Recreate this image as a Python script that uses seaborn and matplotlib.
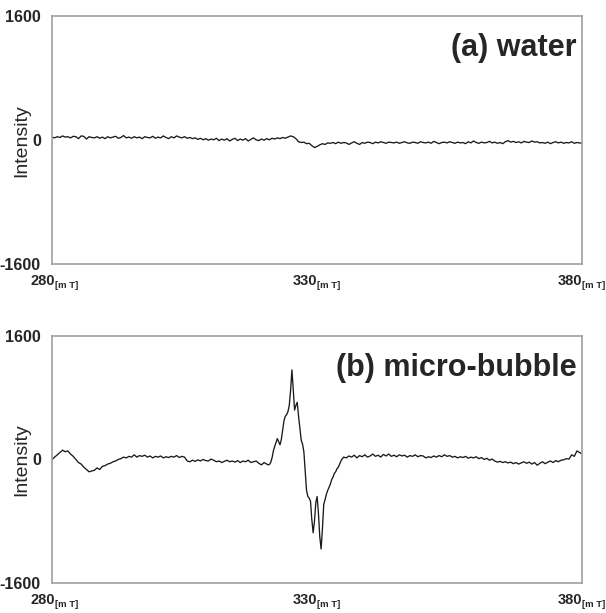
import numpy as np
import pandas as pd
import matplotlib
matplotlib.use("Agg")
import matplotlib.pyplot as plt
import seaborn as sns

# ESR spectra (field in mT, intensity in a.u.)
water_int = [40, 30, 45, 35, 55, 40, 45, 30, 50, 45, 20, 55, 50, 15, 45, 35, 30, 45, 25, 40,
             20, 45, 30, 40, 50, 25, 35, 60, 30, 40, 25, 45, 30, 40, 20, 45, 35, 30, 50, 25,
             40, 30, 55, 35, 20, 45, 30, 55, 40, 30, 45, 25, 35, 20, 30, 10, 25, 5, 20, 0,
             15, 5, 25, -5, 15, 0, 20, -10, 10, 25, -5, 15, 0, 20, -10, 10, 30, 5, -5, 15,
             0, 20, 5, 25, 15, 30, 20, 35, 25, 40, 55, 45, 20, -20, -30, -25, -45, -40, -70, -95,
             -80, -60, -45, -55, -35, -40, -30, -45, -25, -40, -30, -35, -55, -35, -20, -40, -55, -30, -40, -25,
             -30, -45, -25, -35, -20, -30, -40, -25, -30, -35, -25, -40, -30, -20, -35, -40, -25, -30, -40, -20,
             -30, -35, -25, -40, -15, -30, -45, -30, -25, -35, -20, -30, -40, -25, -35, -30, -45, -20, -35, -10,
             -30, -40, -25, -35, -30, -15, -35, -25, -40, -30, -45, -20, -5, -25, -15, -30, -20, -35, -15, -25,
             -30, -10, -25, -20, -35, -30, -40, -25, -45, -30, -20, -35, -25, -40, -30, -35, -20, -40, -30, -35,
             -40]

# micro-bubble: 280-320.5 (0.5 step), 320.75-335 (0.25 step), 335.5-380 (0.5 step)
bubble_int_1 = [0, 30, 60, 90, 120, 100, 110, 70, 40, 0, -40, -60, -100, -130, -160, -150, -140, -110, -130, -90,
                -80, -60, -50, -30, -20, 0, 10, 30, 20, 40, 30, 60, 30, 50, 40, 55, 30, 45, 20, 40,
                30, 45, 20, 35, 25, 40, 30, 50, 25, 40, 30, -20, -30, -10, -25, -5, -20, 0, -15, -20,
                5, -10, -30, -20, -40, -25, -10, -30, -20, -35, -15, -40, -20, -30, -10, -40, -30, -20, -50, -70,
                -40, -60]
bubble_int_2 = [-70, -65, -40, 20, 110, 170, 220, 270, 230, 190, 260, 380, 500, 560, 580, 620, 700, 900, 1160, 900,
                640, 700, 740, 560, 400, 250, 200, 100, -150, -400, -480, -500, -540, -780, -950, -800, -560, -480, -700, -1000,
                -1160, -900, -580, -520, -450, -400, -360, -320, -260, -230, -180, -160, -120, -100, -60, -20, 10, 30]
bubble_int_3 = [20, 45, 30, 55, 20, 50, 35, 60, 30, 45, 70, 40, 55, 30, 65, 45, 70, 40, 55, 35,
                60, 45, 55, 30, 50, 40, 60, 35, 50, 45, 20, 35, 25, 45, 30, 50, 35, 60, 40, 50,
                30, 40, 20, 35, 25, 40, 15, 30, 20, 35, 10, 25, 0, 15, -10, 5, -20, -35, -25, -40,
                -30, -45, -35, -55, -40, -60, -45, -30, -50, -35, -60, -40, -75, -50, -30, -55, -35, -20, -40, -15,
                -30, -10, -5, 10, 5, 60, 40, 110, 90, 70]

water_field = np.linspace(280, 380, len(water_int))
bubble_field = np.concatenate([np.linspace(280, 320.5, len(bubble_int_1)),
                               np.linspace(320.75, 335, len(bubble_int_2)),
                               np.linspace(335.5, 380, len(bubble_int_3))])
bubble_int = bubble_int_1 + bubble_int_2 + bubble_int_3

xticks = [280, 330, 380]
yticks = [-1600, 0, 1600]
x_unit = "[m T]"
panel_titles = ["(a) water", "(b) micro-bubble"]

sns.set_style("white")
plt.rcParams['font.family'] = ['Liberation Sans', 'DejaVu Sans']

fig = plt.figure(figsize=(6.06, 6.13), dpi=100)
ax1 = fig.add_axes([0.0858, 0.569, 0.875, 0.4046])
ax2 = fig.add_axes([0.0858, 0.049, 0.875, 0.403])

data = [(water_field, water_int), (bubble_field, bubble_int)]
for ax, (fx, fy), title in zip([ax1, ax2], data, panel_titles):
    df = pd.DataFrame({'field': fx, 'intensity': fy})
    sns.lineplot(data=df, x='field', y='intensity', ax=ax, color='#1a1a1a',
                 lw=0.95, estimator=None, sort=False)
    ax.set_xlim(280, 380)
    ax.set_ylim(-1600, 1600)
    ax.set_xticks(xticks)
    ax.set_xticklabels([])
    # tick numbers with a small "[m T]" subscript
    for t in xticks:
        dx = 2.5 if t == xticks[0] else 0
        ax.annotate(str(t), xy=(t, 0), xycoords=ax.get_xaxis_transform(),
                    xytext=(dx, -7), textcoords='offset points', ha='right', va='top',
                    fontsize=10.5, fontweight='bold', annotation_clip=False)
        ax.annotate(x_unit, xy=(t, 0), xycoords=ax.get_xaxis_transform(),
                    xytext=(dx, -12), textcoords='offset points', ha='left', va='top',
                    fontsize=6.8, fontweight='bold', annotation_clip=False)
    ax.set_yticks(yticks)
    ax.set_yticklabels([str(t) for t in yticks], fontsize=11.5, fontweight='bold')
    ax.tick_params(length=0, pad=4)
    ax.tick_params(axis='y', pad=8)
    ax.set_xlabel('')
    ax.set_ylabel('Intensity', fontsize=14)
    ax.yaxis.set_label_coords(-0.041, 0.5)
    for s in ax.spines.values():
        s.set_color('#a0a0a0')
        s.set_linewidth(1.2)
    ax.text(0.989, 0.87, title, transform=ax.transAxes, ha='right', va='center',
            fontsize=22, fontweight='bold')

fig.savefig('out.png', dpi=100)
